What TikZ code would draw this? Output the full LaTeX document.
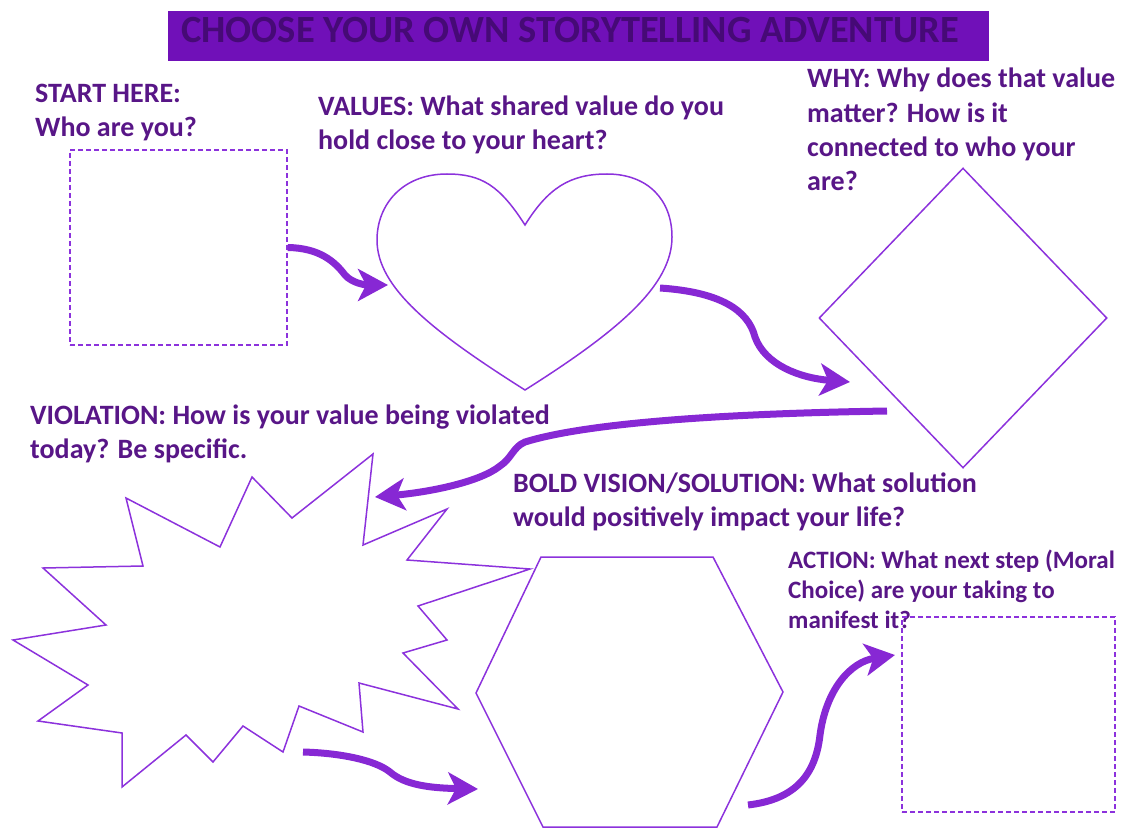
\documentclass[tikz,border=0pt]{standalone}
\usepackage{fontspec}
\setmainfont{Carlito}
\usetikzlibrary{arrows.meta,shapes.geometric}

\definecolor{inkpurple}{RGB}{88,22,135}
\definecolor{linepurple}{RGB}{140,50,220}
\definecolor{arrowpurple}{RGB}{135,40,212}
\definecolor{barpurple}{RGB}{112,16,184}
\definecolor{titleink}{RGB}{70,10,118}

\begin{document}
\begin{tikzpicture}[x=1pt,y=-1pt]
  \tikzstyle{prompt} = [anchor=base west, inner sep=0pt, align=left, text=inkpurple, font=\fontsize{28}{34}\selectfont\bfseries];
  \tikzstyle{dashbox} = [draw=linepurple, line width=1.5pt, dash pattern=on 5pt off 3pt, inner sep=0pt];
  \tikzstyle{outline} = [draw=linepurple, line width=1.5pt, line join=miter];
  \tikzstyle{flow} = [draw=arrowpurple, line width=7pt, -{Stealth[length=30pt, width=32pt, inset=8pt]}];

  \useasboundingbox (0,0) rectangle (1121,829);

  \node[fill=barpurple, minimum width=821pt, minimum height=50pt, inner sep=0pt] (title) at (578,36) {};
  \node[inner sep=0pt, text=titleink, text height=25pt, text depth=11pt, font=\fontsize{38.5}{40}\selectfont\bfseries] (titletext) at ([xshift=-8pt]title.center) {CHOOSE YOUR OWN STORYTELLING ADVENTURE};

  % anchors sit on the last baseline of each prompt
  \node[prompt] (qstart) at (35,137) {START HERE:\\Who are you?};
  \node[prompt] (qvalues) at (318,150) {VALUES: What shared value do you\\hold close to your heart?};
  \node[prompt] (qwhy) at (807,190) {WHY: Why does that value\\matter? How is it\\connected to who your\\are?};
  \node[prompt] (qviolation) at (30,458) {VIOLATION: How is your value being violated\\today? Be specific.};
  \node[prompt] (qvision) at (513,526) {BOLD VISION/SOLUTION: What solution\\would positively impact your life?};
  \node[prompt, font=\fontsize{25}{30}\selectfont\bfseries] (qaction) at (788,628) {ACTION: What next step (Moral\\Choice) are your taking to\\manifest it?};

  \node[dashbox, minimum width=217pt, minimum height=195pt] (who) at (178.5,247.5) {};
  \node[dashbox, minimum width=213pt, minimum height=195pt] (action) at (1008.5,714.5) {};
  \node[outline, diamond, minimum width=288pt, minimum height=300pt, inner sep=0pt] (why) at (963,318) {};

  % heart
  \draw[outline] (525,225) .. controls (500,186) and (482,174) .. (447,174)
    .. controls (402,174) and (377,205) .. (377,240)
    .. controls (377,287) and (430,330) .. (525,390)
    .. controls (620,330) and (672,285) .. (672,237)
    .. controls (672,200) and (648,174) .. (607,174)
    .. controls (570,174) and (548,188) .. (525,225) -- cycle;

  % burst
  \draw[outline] (373,454) -- (363,545) -- (447,509) -- (407,560) -- (530,569)
    -- (418,606) -- (447,640) -- (403,653) -- (458,709) -- (359,683)
    -- (363,732) -- (299,706) -- (283,752) -- (243,726) -- (213,762)
    -- (186,735) -- (122,787) -- (122,733) -- (38,721) -- (88,685)
    -- (13,640) -- (106,625) -- (43,568) -- (143,566) -- (126,498)
    -- (220,547) -- (252,477) -- (292,518) -- cycle;

  % hexagon
  \draw[outline] (541,557) -- (713,557) -- (783,692) -- (717,827) -- (543,827) -- (476,693) -- cycle;

  \coordinate (heartin) at (388,285);
  \coordinate (heartout) at (660,288);
  \coordinate (whyin) at (850,382);
  \coordinate (whyout) at (887,411);
  \coordinate (burstin) at (375,497);
  \coordinate (burstout) at (303,752);
  \coordinate (hexin) at (478,789);
  \coordinate (hexout) at (748,805);
  \coordinate (actionin) at (895,655);

  \draw[flow] (who.east) .. controls (320,248) and (335,262) .. (345,275)
    .. controls (352,283) and (365,285) .. (heartin);
  \draw[flow] (heartout) .. controls (720,292) and (748,310) .. (755,337)
    .. controls (765,365) and (800,378) .. (whyin);
  \draw[flow] (whyout) .. controls (700,414) and (580,425) .. (525,442)
    .. controls (513,447) and (512,458) .. (500,466)
    .. controls (480,482) and (430,492) .. (burstin);
  \draw[flow] (burstout) .. controls (340,753) and (375,760) .. (390,772)
    .. controls (405,785) and (430,788) .. (hexin);
  \draw[flow] (hexout) .. controls (790,800) and (815,780) .. (820,735)
    .. controls (826,690) and (850,662) .. (actionin);

\end{tikzpicture}
\end{document}
